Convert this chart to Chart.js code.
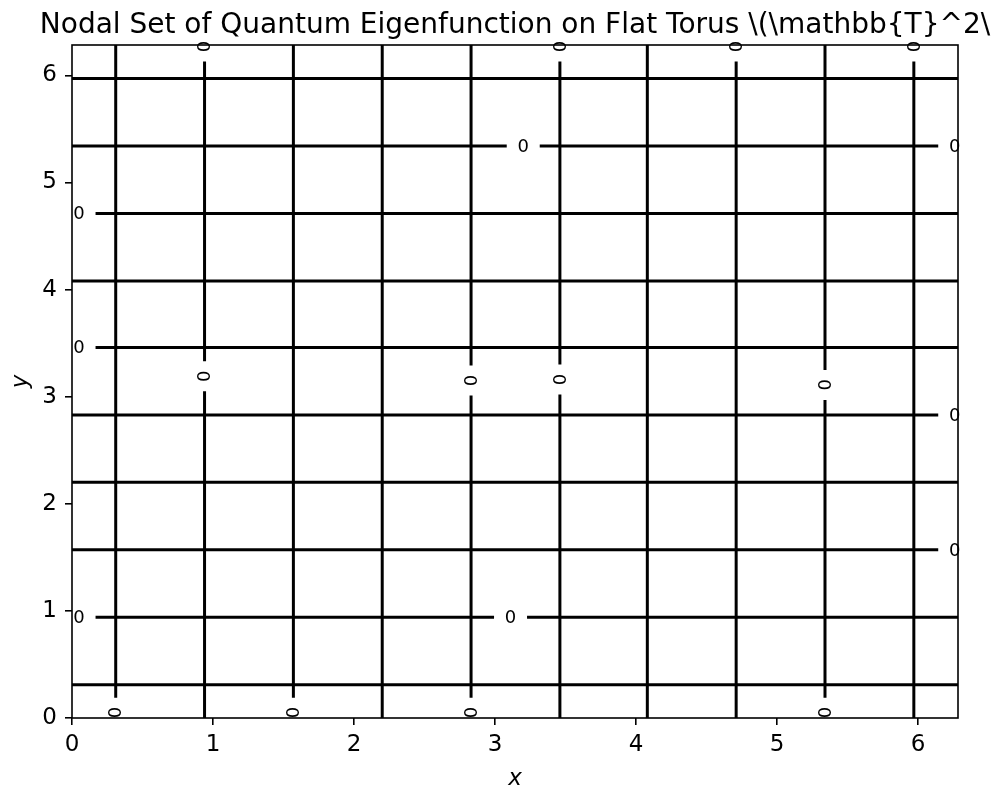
<!DOCTYPE html>
<html>
<head>
<meta charset="utf-8">
<script src="https://cdn.jsdelivr.net/npm/chart.js@4.4.0/dist/chart.umd.min.js"></script>
<style>
  html, body { margin: 0; padding: 0; background: #fff; }
  #wrap { width: 991px; height: 796px; }
</style>
</head>
<body>
<div id="wrap"><canvas id="torusChart" width="991" height="796"></canvas></div>
<script>
// nodal lines of the eigenfunction (where it is zero)
const nodalX = [0.31, 0.94, 1.57, 2.20, 2.83, 3.46, 4.08, 4.71, 5.34, 5.97];
const nodalY = [0.31, 0.94, 1.57, 2.20, 2.83, 3.46, 4.08, 4.71, 5.34, 5.97];

// contour labels "0" sitting on the vertical lines (line index + y position)
const vLabelLine = [0, 1, 1, 2, 4, 4, 5, 5, 7, 8, 8, 9];
const vLabelY = [0.05, 6.27, 3.19, 0.05, 3.15, 0.05, 6.27, 3.16, 6.27, 3.11, 0.05, 6.27];

// contour labels on the horizontal lines (line index + x position)
const hLabelLine = [1, 1, 2, 4, 5, 7, 8, 8];
const hLabelX = [0.05, 3.11, 6.26, 6.26, 0.05, 0.05, 3.20, 6.26];

const labelText = '0';
const domainMax = 6.2832;
const xTicks = [0, 1, 2, 3, 4, 5, 6];
const yTicks = [0, 1, 2, 3, 4, 5, 6];

const titleText = 'Nodal Set of Quantum Eigenfunction on Flat Torus \\(\\mathbb{T}^2\\';
const FONT = "'DejaVu Sans', sans-serif";

// half size of the break cut into a line around a label (data units)
const gapAlongY = 0.14;
const gapAlongX = 0.117;

// build a broken segment list along one line
function brokenLine(fixed, cuts, gap, vertical) {
    const pts = [];
    const sorted = cuts.slice().sort((a, b) => a - b);
    let start = 0;
    const mk = (v) => vertical ? { x: fixed, y: v } : { x: v, y: fixed };
    const brk = () => vertical ? { x: fixed, y: null } : { x: null, y: fixed };
    sorted.forEach(c => {
        const a = Math.max(0, c - gap);
        if (a > start) {
            pts.push(mk(start));
            pts.push(mk(a));
        }
        pts.push(brk());
        start = Math.min(domainMax, c + gap);
    });
    if (start < domainMax) {
        pts.push(mk(start));
        pts.push(mk(domainMax));
    }
    return pts;
}

const datasets = [];
nodalX.forEach((x, i) => {
    const cuts = vLabelY.filter((_, k) => vLabelLine[k] === i);
    datasets.push({ data: brokenLine(x, cuts, gapAlongY, true) });
});
nodalY.forEach((y, i) => {
    const cuts = hLabelX.filter((_, k) => hLabelLine[k] === i);
    datasets.push({ data: brokenLine(y, cuts, gapAlongX, false) });
});
datasets.forEach(d => {
    d.showLine = true;
    d.spanGaps = false;
    d.borderColor = '#000';
    d.borderWidth = 3;
    d.borderCapStyle = 'butt';
    d.pointRadius = 0;
    d.pointHoverRadius = 0;
});

const decorPlugin = {
    id: 'decor',
    afterDatasetsDraw(chart) {
        const { ctx, chartArea: a, scales } = chart;
        ctx.save();
        // frame
        ctx.strokeStyle = '#000';
        ctx.lineWidth = 1.6;
        ctx.strokeRect(a.left, a.top, a.right - a.left, a.bottom - a.top);

        // contour labels
        ctx.fillStyle = '#000';
        ctx.font = '18px ' + FONT;
        ctx.textAlign = 'center';
        ctx.textBaseline = 'middle';
        vLabelY.forEach((y, k) => {
            const px = scales.x.getPixelForValue(nodalX[vLabelLine[k]]);
            const py = scales.y.getPixelForValue(y);
            ctx.save();
            ctx.translate(px, py);
            ctx.rotate(-Math.PI / 2);
            ctx.fillText(labelText, 0, 1);
            ctx.restore();
        });
        hLabelX.forEach((x, k) => {
            const px = scales.x.getPixelForValue(x);
            const py = scales.y.getPixelForValue(nodalY[hLabelLine[k]]);
            ctx.fillText(labelText, px, py + 1);
        });
        ctx.restore();
    },
    afterDraw(chart) {
        const { ctx, chartArea: a } = chart;
        ctx.save();
        ctx.fillStyle = '#000';
        ctx.textAlign = 'center';
        ctx.textBaseline = 'alphabetic';
        ctx.font = '28px ' + FONT;
        ctx.fillText(titleText, (a.left + a.right) / 2, 33);

        ctx.font = 'italic 23px ' + FONT;
        ctx.fillText('x', (a.left + a.right) / 2, 785);
        ctx.translate(27, (a.top + a.bottom) / 2);
        ctx.rotate(-Math.PI / 2);
        ctx.fillText('y', 0, 0);
        ctx.restore();
    }
};

const axisCommon = {
    type: 'linear',
    min: 0,
    max: domainMax,
    border: { display: false },
    grid: {
        drawOnChartArea: false,
        drawTicks: true,
        tickLength: 7,
        color: '#000',
        lineWidth: 1.6
    }
};

new Chart(document.getElementById('torusChart'), {
    type: 'scatter',
    data: { datasets: datasets },
    options: {
        responsive: false,
        devicePixelRatio: 1,
        animation: false,
        events: [],
        layout: { padding: { top: 45, right: 33, left: 0, bottom: 0 } },
        plugins: {
            legend: { display: false },
            tooltip: { enabled: false },
            title: { display: false }
        },
        scales: {
            x: Object.assign({}, axisCommon, {
                afterFit: s => { s.height = 78; },
                afterBuildTicks: s => { s.ticks = xTicks.map(v => ({ value: v })); },
                ticks: { color: '#000', font: { family: FONT, size: 23 }, padding: 6, maxRotation: 0 }
            }),
            y: Object.assign({}, axisCommon, {
                afterFit: s => { s.width = 72; },
                afterBuildTicks: s => { s.ticks = yTicks.map(v => ({ value: v })); },
                ticks: { color: '#000', font: { family: FONT, size: 23 }, padding: 8 }
            })
        }
    },
    plugins: [decorPlugin]
});
</script>
</body>
</html>
